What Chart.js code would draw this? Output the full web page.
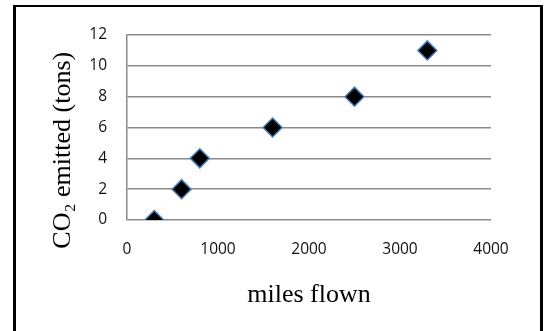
<!DOCTYPE html>
<html>
<head>
<meta charset="utf-8">
<title>CO2 vs miles flown</title>
<script src="https://cdn.jsdelivr.net/npm/chart.js@4/dist/chart.umd.min.js"></script>
<style>
  html, body { margin: 0; padding: 0; background: #fff; overflow: hidden; }
  #wrap { position: relative; width: 544px; height: 331px; overflow: hidden; }
  #frame {
    position: absolute; left: 13px; top: 5px; width: 524px; height: 400px;
    border-left: 3px solid #000; border-top: 2px solid #000; border-right: 3px solid #000;
  }
  #chart { position: absolute; left: 0; top: 0; }
</style>
</head>
<body>
<div id="wrap">
  <div id="frame"></div>
  <canvas id="chart" width="544" height="331"></canvas>
</div>
<script>
// flight distance vs emissions
const milesFlown = [300, 600, 800, 1600, 2500, 3300];
const co2Tons = [0, 2, 4, 6, 8, 11];
const xTickValues = [0, 1000, 2000, 3000, 4000];
const yTickValues = [0, 2, 4, 6, 8, 10, 12];

const xTitle = "miles flown";
const yTitle = "CO\u2082 emitted (tons)";

const gridGray = "#8a8a8a";
const tickFont = { family: "'Open Sans', sans-serif", size: 15.5 };
const titleFont = { family: "'Liberation Serif', 'Times New Roman', serif", size: 26 };

document.addEventListener("DOMContentLoaded", () => {
  const ctx = document.getElementById("chart").getContext("2d");

  new Chart(ctx, {
    type: "scatter",
    data: {
      datasets: [{
        label: "CO2",
        data: milesFlown.map((m, i) => ({ x: m, y: co2Tons[i] })),
        pointStyle: "rectRot",
        pointRadius: 9.5,
        pointHoverRadius: 9.5,
        backgroundColor: "#000",
        borderColor: "#4a7ebb",
        borderWidth: 1.5
      }]
    },
    options: {
      responsive: false,
      animation: false,
      devicePixelRatio: 1,
      layout: { padding: { top: 35, right: 53, bottom: 0, left: 0 } },
      plugins: {
        legend: { display: false },
        tooltip: { enabled: false }
      },
      scales: {
        x: {
          type: "linear",
          min: 0,
          max: 4000,
          afterBuildTicks: (s) => { s.ticks = xTickValues.map((v) => ({ value: v })); },
          afterFit: (s) => { s.height = 111; },
          grid: { display: false, drawTicks: false },
          border: { display: false },
          ticks: {
            font: tickFont,
            color: "#111",
            padding: 20,
            maxRotation: 0,
            callback: (v) => String(v)
          },
          title: {
            display: true,
            text: xTitle,
            font: titleFont,
            color: "#000",
            padding: { top: 0, bottom: 20 }
          }
        },
        y: {
          min: 0,
          max: 12,
          afterBuildTicks: (s) => { s.ticks = yTickValues.map((v) => ({ value: v })); },
          afterFit: (s) => { s.width = 127; },
          grid: { color: gridGray, lineWidth: 1.5, drawTicks: false },
          border: { display: true, color: gridGray, width: 1.5 },
          ticks: { font: tickFont, color: "#111", padding: 20, callback: (v) => String(v) },
          title: {
            display: true,
            text: yTitle + "       ",
            font: titleFont,
            color: "#000",
            padding: { top: 48, bottom: 0 }
          }
        }
      }
    }
  });
});
</script>
</body>
</html>
